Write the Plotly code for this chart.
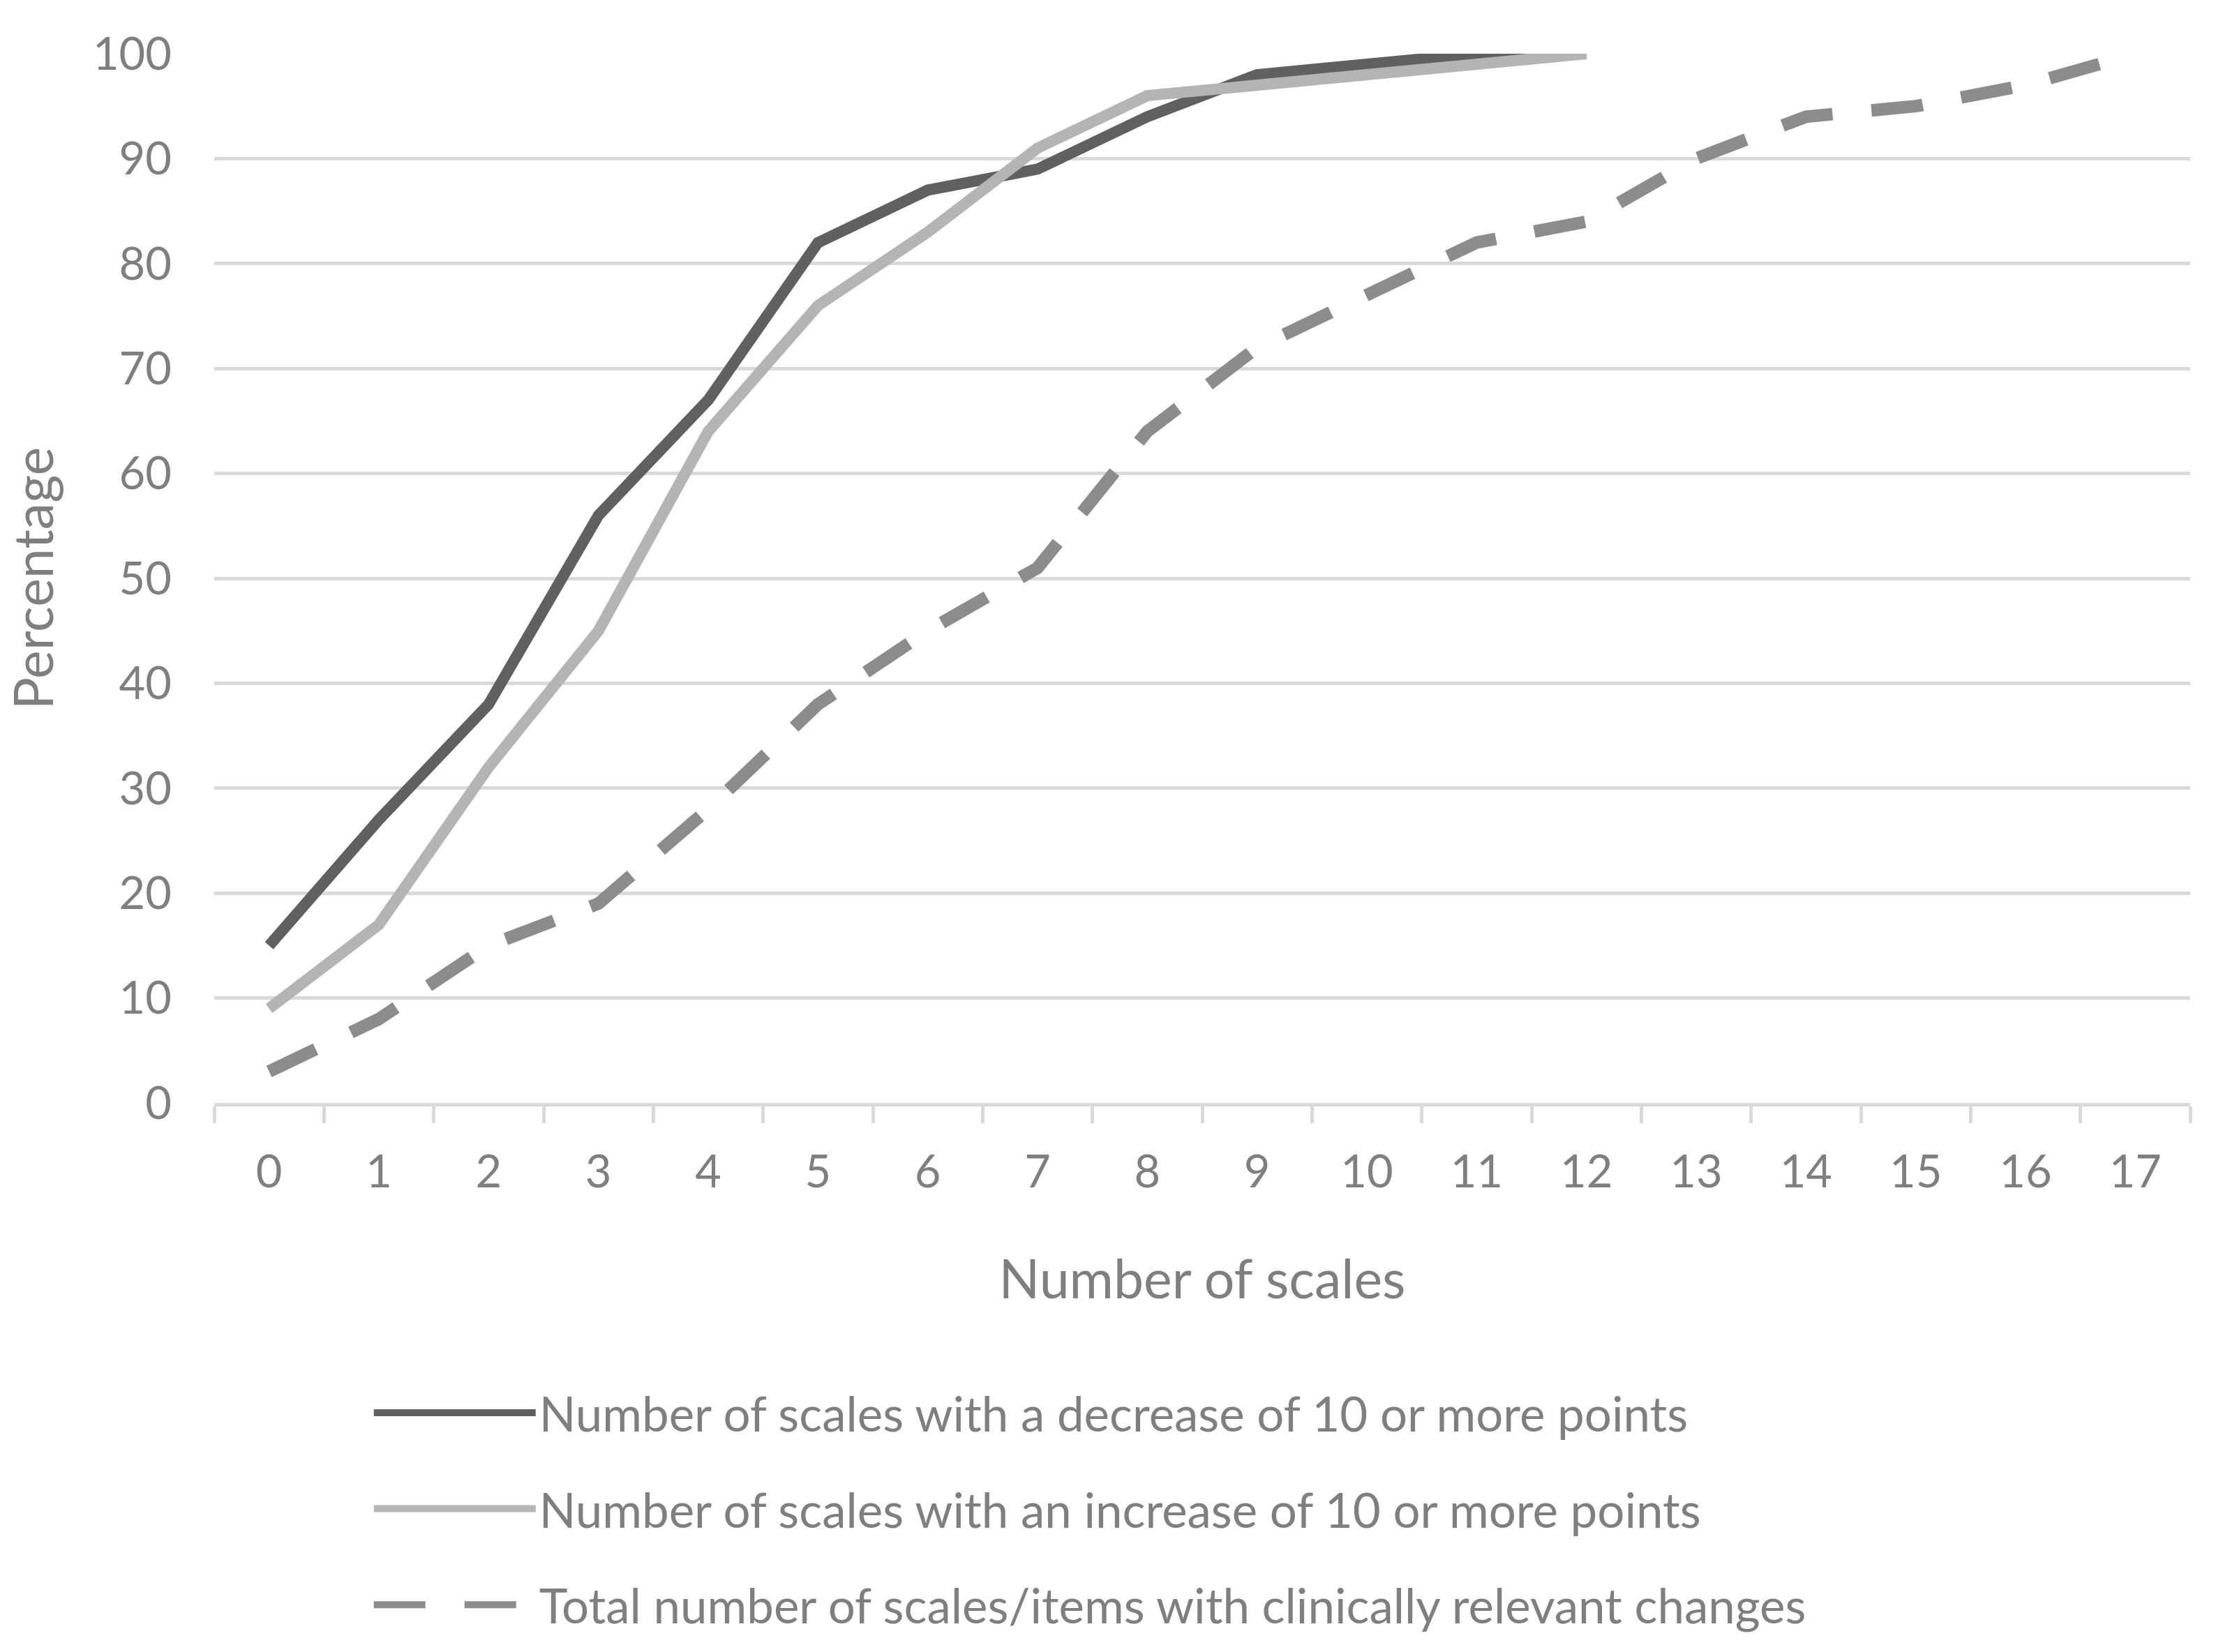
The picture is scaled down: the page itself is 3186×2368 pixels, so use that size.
import plotly.graph_objects as go

categories = [str(i) for i in range(18)]
decrease = [15, 27, 38, 56, 67, 82, 87, 89, 94, 98, 99, 100, 100]
increase = [9, 17, 32, 45, 64, 76, 83, 91, 96, 97, 98, 99, 100]
total = [3, 8, 15, 19, 28, 38, 45, 51, 64, 72, 77, 82, 84, 90, 94, 95, 97, 100]

names = [
    "Number of scales with a decrease of 10 or more points",
    "Number of scales with an increase of 10 or more points",
    "Total number of scales/items with clinically relevant changes",
]

TXT = "#7f7f7f"
GRID = "#d9d9d9"
FONT = "Lato"

fig = go.Figure()
fig.add_trace(go.Scatter(x=categories[:len(decrease)], y=decrease, mode="lines",
                         name=names[0], legendgroup="a",
                         line=dict(color="#606060", width=16)))
fig.add_trace(go.Scatter(x=categories[:len(increase)], y=increase, mode="lines",
                         name=names[1], legendgroup="b",
                         line=dict(color="#b4b4b4", width=16)))
fig.add_trace(go.Scatter(x=categories[:len(total)], y=total, mode="lines",
                         name=names[2], legendgroup="c",
                         line=dict(color="#8c8c8c", width=18, dash="74px,56px")))

fig.update_layout(
    width=3186, height=2368,
    paper_bgcolor="white", plot_bgcolor="white",
    margin=dict(l=307, r=47, t=77, b=787),
    font=dict(family=FONT, color=TXT, size=65),
    showlegend=True,
    legend=dict(x=0.079, xanchor="left", y=-0.261, yanchor="top",
                orientation="v", itemwidth=232, tracegroupgap=45,
                font=dict(family=FONT, size=69, color=TXT),
                bgcolor="rgba(0,0,0,0)"),
    xaxis=dict(type="category", categoryorder="array", categoryarray=categories,
               range=[-0.5, 17.5], tickson="boundaries",
               ticks="outside", ticklen=24, tickwidth=5, tickcolor=GRID,
               showline=True, linecolor=GRID, linewidth=5,
               showgrid=False, zeroline=False,
               tickfont=dict(size=65, color=TXT, family=FONT),
               ticklabelstandoff=38,
               title=dict(text="Number of scales", font=dict(size=77, color=TXT, family=FONT),
                          standoff=94)),
    yaxis=dict(range=[0, 100], dtick=10, tick0=0,
               showgrid=True, gridcolor=GRID, gridwidth=5,
               zeroline=False, showline=False, ticks="",
               tickfont=dict(size=65, color=TXT, family=FONT),
               ticklabelstandoff=60,
               title=dict(text="Percentage", font=dict(size=77, color=TXT, family=FONT),
                          standoff=40)),
)

fig.write_html("out.html", config={"displayModeBar": False},
               post_script="document.body.style.margin='0';document.body.style.overflow='hidden';")
